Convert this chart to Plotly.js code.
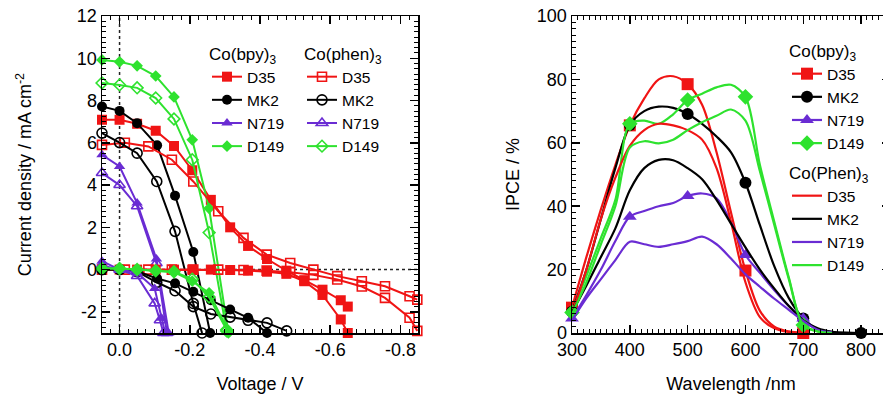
<!DOCTYPE html>
<html><head><meta charset="utf-8">
<script src="https://cdn.plot.ly/plotly-3.0.1.min.js"></script>
<style>html,body{margin:0;padding:0;overflow:hidden;background:#fff}#chart{width:900px;height:409px}</style>
</head><body><div id="chart"></div>
<script>
// ---------- Left panel: J-V curves (V in volts, J in mA cm^-2) ----------
const vD35bpy   = [0.05, 0, -0.05, -0.103, -0.155, -0.207, -0.26, -0.315, -0.366, -0.42, -0.475, -0.526, -0.578, -0.63, -0.65];
const jD35bpyL  = [7.09, 7.09, 6.9, 6.57, 5.85, 4.7, 3.3, 2.0, 1.12, 0.5, -0.05, -0.5, -0.95, -1.45, -1.75];
const jD35bpyD  = [0, 0, 0, 0, 0, 0, 0, -0.02, -0.05, -0.1, -0.2, -0.55, -1.2, -2.36, -3.0];
const vD35phen  = [0.05, -0.015, -0.082, -0.149, -0.21, -0.281, -0.353, -0.419, -0.486, -0.552, -0.62, -0.69, -0.756, -0.826, -0.848];
const jD35phenL = [5.9, 6.0, 5.83, 5.2, 4.17, 2.76, 1.5, 0.71, 0.31, 0.0, -0.31, -0.55, -0.79, -1.26, -1.42];
const jD35phenD = [0, 0, 0, 0, 0, 0, -0.02, -0.05, -0.12, -0.25, -0.47, -0.8, -1.34, -2.28, -2.9];

const vMK2bpyL  = [0.05, 0, -0.05, -0.107, -0.158, -0.21, -0.258];
const jMK2bpyL  = [7.72, 7.51, 6.93, 5.88, 3.5, 0.83, -3.0];
const vMK2phenL = [0.05, 0, -0.05, -0.106, -0.158, -0.21, -0.235];
const jMK2phenL = [6.46, 6.01, 5.51, 4.17, 1.81, -1.6, -3.0];
const vMK2bpyD  = [0.05, 0, -0.05, -0.107, -0.158, -0.21, -0.26, -0.315, -0.366, -0.42];
const jMK2bpyD  = [0, 0, -0.08, -0.42, -0.65, -1.05, -1.45, -1.89, -2.28, -3.0];
const vMK2phenD = [0.05, 0, -0.05, -0.106, -0.158, -0.21, -0.26, -0.315, -0.366, -0.42, -0.476];
const jMK2phenD = [0, 0, -0.1, -0.6, -1.0, -1.75, -2.1, -2.25, -2.4, -2.52, -2.9];

const vN719bpyL  = [0.05, 0, -0.05, -0.105, -0.14];
const jN719bpyL  = [5.43, 4.88, 3.15, 0.5, -3.0];
const vN719phenL = [0.05, 0, -0.05, -0.105, -0.135];
const jN719phenL = [4.57, 4.0, 3.0, 0.3, -3.0];
const vN719bpyD  = [0.05, 0, -0.05, -0.1, -0.12, -0.13];
const jN719bpyD  = [0.4, 0, -0.15, -0.9, -2.3, -3.0];
const vN719phenD = [0.05, 0, -0.05, -0.1, -0.115, -0.125];
const jN719phenD = [0.2, 0, -0.3, -1.6, -2.4, -3.0];

const vD149bpy   = [0.05, 0, -0.05, -0.103, -0.155, -0.207, -0.255, -0.31];
const jD149bpyL  = [9.92, 9.83, 9.64, 9.16, 8.17, 6.14, 2.9, -3.0];
const jD149bpyD  = [0.05, 0.05, 0, -0.05, -0.12, -0.55, -1.1, -2.9];
const vD149phen  = [0.05, 0, -0.05, -0.103, -0.155, -0.207, -0.255, -0.305];
const jD149phenL = [8.83, 8.74, 8.6, 8.12, 7.13, 5.2, 1.75, -2.9];
const jD149phenD = [0.05, 0.05, 0, -0.05, -0.1, -0.45, -1.3, -2.85];

const voltTicks = [0, -0.2, -0.4, -0.6, -0.8];
const jTicks = [-2, 0, 2, 4, 6, 8, 10, 12];

// ---------- Right panel: IPCE (%) vs wavelength (nm) ----------
const wl = [300, 325, 350, 375, 400, 425, 450, 475, 500, 525, 550, 575, 600, 625, 650, 675, 700, 725, 750, 775, 800];
const ipceD35bpy   = [8, 24, 39, 53, 65.5, 74, 80, 81, 78.5, 72, 57, 38, 19.7, 7, 2, 0.5, 0];
const ipceMK2bpy   = [6.7, 20, 36, 52, 65.6, 70, 71.4, 71, 69.1, 66, 62, 57, 47.4, 34, 21, 11, 4.6, 1.2, 0.3, 0.1, 0];
const ipceN719bpy  = [4.6, 12, 20, 29, 36.7, 38.5, 40, 41, 43.2, 44, 42.5, 35, 24.6, 19, 13.5, 8.5, 4.6, 1, 0.2];
const ipceD149bpy  = [6.5, 18, 30, 42, 66, 67, 66, 69, 73.5, 75.5, 77.5, 78.3, 74.5, 53, 35, 17.5, 2.5, 0.5, 0];
const ipceD35phen  = [6, 20, 36, 49, 59, 64, 66, 65.5, 64, 61, 52, 35, 16, 5, 1.5, 0.3, 0];
const ipceMK2phen  = [6.5, 15, 24, 33, 45, 52, 54.6, 54.5, 52, 48.5, 42, 34.5, 27, 20, 14, 8.5, 4, 1.5, 0.4, 0];
const ipceN719phen = [4, 11, 17, 23, 28.8, 28, 27.2, 28, 29, 30.4, 28, 23.5, 18.5, 14.6, 10.8, 7.3, 3.8, 1, 0.2];
const ipceD149phen = [6, 16, 28, 40, 58.5, 60.5, 59.8, 61, 64, 66.5, 68.5, 70.5, 67, 51, 34, 17, 2.5, 0.5, 0];

const wlTicks = [300, 400, 500, 600, 700, 800];
const ipceTicks = [0, 20, 40, 60, 80, 100];

// ---------- styling ----------
const RED = '#f01414', BLK = '#000000', PUR = '#6a2cd3', GRN = '#2ee22e';
const FONT = 'Liberation Sans, Arial, sans-serif';

function jv(v, j, name, color, symbol, legend, show, size) {
  return {x: v, y: j, xaxis: 'x', yaxis: 'y', type: 'scatter', mode: 'lines+markers', name: name,
    legend: legend, showlegend: show, cliponaxis: false, hoverinfo: 'skip',
    line: {color: color, width: 2},
    marker: {symbol: symbol, color: color, size: size, line: {color: color, width: symbol.indexOf('open') >= 0 ? 1.6 : 0}}};
}
function ip(y, name, color, symbol, legend) {
  const xs = wl.slice(0, y.length);
  const t = {x: xs, y: y, xaxis: 'x2', yaxis: 'y2', type: 'scatter', name: name,
    legend: legend, cliponaxis: false, hoverinfo: 'skip',
    line: {color: color, width: 2.2, shape: 'spline', smoothing: 0.9}};
  if (symbol) {
    t.mode = 'lines+markers';
    // markers only at the measured 100 nm points
    t.marker = {symbol: symbol, size: 12, line: {width: 0},
      color: xs.map(w => w % 100 === 0 ? color : 'rgba(0,0,0,0)')};
  } else t.mode = 'lines';
  return t;
}

const traces = [
  jv(vD35bpy, jD35bpyL, 'D35', RED, 'square', 'legend', true, 10),
  jv(vMK2bpyL, jMK2bpyL, 'MK2', BLK, 'circle', 'legend', true, 10),
  jv(vN719bpyL, jN719bpyL, 'N719', PUR, 'triangle-up', 'legend', true, 10),
  jv(vD149bpy, jD149bpyL, 'D149', GRN, 'diamond', 'legend', true, 9),
  jv(vD35phen, jD35phenL, 'D35', RED, 'square-open', 'legend2', true, 9),
  jv(vMK2phenL, jMK2phenL, 'MK2', BLK, 'circle-open', 'legend2', true, 10),
  jv(vN719phenL, jN719phenL, 'N719', PUR, 'triangle-up-open', 'legend2', true, 10),
  jv(vD149phen, jD149phenL, 'D149', GRN, 'diamond-open', 'legend2', true, 9),
  jv(vD35bpy, jD35bpyD, 'D35 dark', RED, 'square', 'legend', false, 10),
  jv(vD35phen, jD35phenD, 'D35 dark', RED, 'square-open', 'legend2', false, 9),
  jv(vMK2bpyD, jMK2bpyD, 'MK2 dark', BLK, 'circle', 'legend', false, 10),
  jv(vMK2phenD, jMK2phenD, 'MK2 dark', BLK, 'circle-open', 'legend2', false, 10),
  jv(vN719bpyD, jN719bpyD, 'N719 dark', PUR, 'triangle-up', 'legend', false, 10),
  jv(vN719phenD, jN719phenD, 'N719 dark', PUR, 'triangle-up-open', 'legend2', false, 10),
  jv(vD149bpy, jD149bpyD, 'D149 dark', GRN, 'diamond', 'legend', false, 9),
  jv(vD149phen, jD149phenD, 'D149 dark', GRN, 'diamond-open', 'legend2', false, 9),
  ip(ipceD35bpy, 'D35', RED, 'square', 'legend3'),
  ip(ipceMK2bpy, 'MK2', BLK, 'circle', 'legend3'),
  ip(ipceN719bpy, 'N719', PUR, 'triangle-up', 'legend3'),
  ip(ipceD149bpy, 'D149', GRN, 'diamond', 'legend3'),
  ip(ipceD35phen, 'D35', RED, null, 'legend4'),
  ip(ipceMK2phen, 'MK2', BLK, null, 'legend4'),
  ip(ipceN719phen, 'N719', PUR, null, 'legend4'),
  ip(ipceD149phen, 'D149', GRN, null, 'legend4')
];

const axBase = {showline: true, linewidth: 1.5, linecolor: '#000', mirror: 'ticks', ticks: 'inside',
  ticklen: 8, tickwidth: 1.5, tickcolor: '#000', showgrid: false, zeroline: false,
  tickfont: {family: FONT, size: 18, color: '#000'}, autorange: false, fixedrange: true};
function minor(d) { return {ticks: 'inside', ticklen: 4, tickwidth: 1, tickcolor: '#000', dtick: d, showgrid: false}; }

const legBase = {bgcolor: 'rgba(0,0,0,0)', borderwidth: 0, xanchor: 'left', yanchor: 'top',
  font: {family: FONT, size: 15.5, color: '#000'}, traceorder: 'normal', tracegroupgap: 0, itemsizing: 'trace'};

const layout = {
  width: 900, height: 409,
  margin: {l: 102, r: 10, t: 16, b: 76},
  paper_bgcolor: '#fff', plot_bgcolor: '#fff',
  font: {family: FONT, size: 18, color: '#000'},
  xaxis: Object.assign({}, axBase, {domain: [0, 316/788], range: [0.05, -0.85],
    tickmode: 'array', tickvals: voltTicks, ticktext: voltTicks.map(v => v.toFixed(1)),
    minor: minor(0.025), anchor: 'y',
    title: {text: 'Voltage / V', font: {family: FONT, size: 18}, standoff: 18}}),
  yaxis: Object.assign({}, axBase, {domain: [0, 1], range: [-3, 12], anchor: 'x',
    tickmode: 'array', tickvals: jTicks, ticktext: jTicks.map(String), minor: minor(0.25),
    title: {text: 'Current density / mA cm<sup>-2</sup>', font: {family: FONT, size: 18}, standoff: 40}}),
  xaxis2: Object.assign({}, axBase, {domain: [470/788, 1], range: [300, 850], anchor: 'y2',
    tickmode: 'array', tickvals: wlTicks, ticktext: wlTicks.map(String), minor: minor(10),
    title: {text: 'Wavelength /nm', font: {family: FONT, size: 18}, standoff: 18}}),
  yaxis2: Object.assign({}, axBase, {domain: [0, 1], range: [0, 100], anchor: 'x2',
    tickmode: 'array', tickvals: ipceTicks, ticktext: ipceTicks.map(String), minor: minor(2),
    title: {text: 'IPCE / %', font: {family: FONT, size: 18}, standoff: 12}}),
  shapes: [
    {type: 'line', xref: 'x', yref: 'y domain', x0: 0, x1: 0, y0: 0, y1: 1, layer: 'below', line: {color: '#222', width: 1.5, dash: 'dot'}},
    {type: 'line', xref: 'x domain', yref: 'y', x0: 0, x1: 1, y0: 0, y1: 0, layer: 'below', line: {color: '#222', width: 1.5, dash: 'dot'}}
  ],
  legend: Object.assign({}, legBase, {x: (207-102)/788, y: (333-38)/317,
    title: {text: 'Co(bpy)<sub>3</sub>', font: {family: FONT, size: 17}}}),
  legend2: Object.assign({}, legBase, {x: (302-102)/788, y: (333-38)/317,
    title: {text: 'Co(phen)<sub>3</sub>', font: {family: FONT, size: 17}}}),
  legend3: Object.assign({}, legBase, {x: (787-102)/788, y: (333-35)/317,
    title: {text: 'Co(bpy)<sub>3</sub>', font: {family: FONT, size: 17}}}),
  legend4: Object.assign({}, legBase, {x: (787-102)/788, y: (333-157)/317,
    title: {text: 'Co(Phen)<sub>3</sub>', font: {family: FONT, size: 17}}})
};

Plotly.newPlot('chart', traces, layout, {staticPlot: true, displayModeBar: false});
</script>
</body></html>
